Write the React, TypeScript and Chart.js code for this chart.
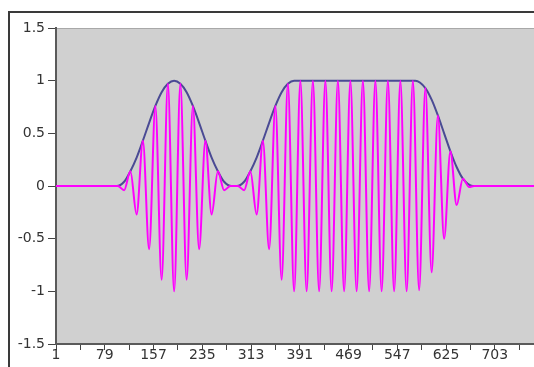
import React, { useEffect, useRef } from 'react';
import { Chart, registerables } from 'chart.js';

Chart.register(...registerables);

// x axis range (sample index) and tick labels
const X_MIN = 1;
const X_MAX = 801;
const xTickValues = [1, 40, 79, 118, 157, 196, 235, 274, 313, 352, 391, 430, 469, 508, 547, 586, 625, 664, 703, 742, 781];
const xLabelValues = [1, 79, 157, 235, 313, 391, 469, 547, 625, 703];
const yTickValues = [-1.5, -1, -0.5, 0, 0.5, 1, 1.5];

// envelope (dark blue line)
const envelopeX = [1, 98, 110, 120, 130, 140, 150, 160, 170, 180, 190, 200, 210, 220, 230, 240, 250, 260, 270, 282, 290, 302, 312, 322, 332, 342, 352, 362, 372, 382, 576, 592, 602, 612, 622, 632, 642, 652, 668, 801];
const envelopeY = [0, 0, 0.04, 0.14, 0.27, 0.43, 0.6, 0.76, 0.89, 0.97, 1, 0.97, 0.89, 0.76, 0.6, 0.43, 0.27, 0.14, 0.04, 0, 0, 0.04, 0.14, 0.27, 0.43, 0.6, 0.76, 0.89, 0.97, 1, 1, 0.93, 0.82, 0.67, 0.5, 0.33, 0.18, 0.07, 0, 0];

// modulated signal (magenta line): its peaks and troughs
const signalX = [1, 100, 110, 120, 130, 140, 150, 160, 170, 180, 190, 200, 210, 220, 230, 240, 250, 260, 270, 280, 292, 302, 312, 322, 332, 342, 352, 362, 372, 382, 392, 402, 412, 422, 432, 442, 452, 462, 472, 482, 492, 502, 512, 522, 532, 542, 552, 562, 572, 582, 592, 602, 612, 622, 632, 642, 652, 662, 670, 801];
const signalY = [0, 0, -0.04, 0.14, -0.27, 0.43, -0.6, 0.76, -0.89, 0.97, -1, 0.97, -0.89, 0.76, -0.6, 0.43, -0.27, 0.14, -0.04, 0, 0, -0.04, 0.14, -0.27, 0.43, -0.6, 0.76, -0.89, 0.97, -1, 1, -1, 1, -1, 1, -1, 1, -1, 1, -1, 1, -1, 1, -1, 1, -1, 1, -1, 1, -0.99, 0.93, -0.82, 0.67, -0.5, 0.33, -0.18, 0.07, -0.01, 0, 0];

const FONT = { family: 'DejaVu Sans', size: 14 };

export default function App() {
  const ref = useRef<HTMLCanvasElement>(null);

  useEffect(() => {
    if (!ref.current) return;
    const background = {
      id: 'background',
      beforeDraw(chart: any) {
        const { ctx, chartArea: a } = chart;
        ctx.save();
        ctx.fillStyle = '#ffffff';
        ctx.fillRect(0, 0, chart.width, chart.height);
        ctx.strokeStyle = '#3a3a3a';
        ctx.lineWidth = 2;
        ctx.strokeRect(9, 12, 1000, 1000);
        ctx.fillStyle = '#d0d0d0';
        ctx.fillRect(a.left, a.top, a.right - a.left, a.bottom - a.top);
        ctx.strokeStyle = '#a8a8a8';
        ctx.lineWidth = 1;
        ctx.beginPath();
        ctx.moveTo(a.left, a.top + 0.5);
        ctx.lineTo(a.right, a.top + 0.5);
        ctx.stroke();
        ctx.restore();
      },
    };

    const chart = new Chart(ref.current, {
      type: 'line',
      data: {
        datasets: [
          {
            data: envelopeX.map((x, i) => ({ x, y: envelopeY[i] })),
            borderColor: '#4a4a94',
            borderWidth: 2,
            pointRadius: 0,
            cubicInterpolationMode: 'monotone',
            order: 1,
          },
          {
            data: signalX.map((x, i) => ({ x, y: signalY[i] })),
            borderColor: '#ff00ff',
            borderWidth: 2,
            pointRadius: 0,
            cubicInterpolationMode: 'monotone',
            order: 0,
          },
        ],
      },
      options: {
        responsive: false,
        animation: false,
        devicePixelRatio: 1,
        events: [],
        layout: { padding: { left: 0, top: 28, right: 44, bottom: 0 } },
        plugins: { legend: { display: false }, tooltip: { enabled: false } },
        scales: {
          x: {
            type: 'linear',
            min: X_MIN,
            max: X_MAX,
            afterBuildTicks: (s: any) => {
              s.ticks = xTickValues.map((v) => ({ value: v }));
            },
            afterFit: (s: any) => {
              s.height = 23;
            },
            grid: { drawOnChartArea: false, drawTicks: true, tickLength: 6, color: '#444', lineWidth: 1 },
            border: { display: true, color: '#5a5a5a', width: 2 },
            ticks: {
              autoSkip: false,
              maxRotation: 0,
              padding: -3,
              color: '#333',
              font: FONT,
              callback: (v: any) => (xLabelValues.includes(Number(v)) ? String(v) : ''),
            },
          },
          y: {
            type: 'linear',
            min: -1.5,
            max: 1.5,
            afterBuildTicks: (s: any) => {
              s.ticks = yTickValues.map((v) => ({ value: v }));
            },
            afterFit: (s: any) => {
              s.width = 56;
            },
            grid: { drawOnChartArea: false, drawTicks: true, tickLength: 8, color: '#444', lineWidth: 1 },
            border: { display: true, color: '#5a5a5a', width: 2 },
            ticks: {
              padding: 3,
              color: '#333',
              font: FONT,
              callback: (v: any) => String(v),
            },
          },
        },
      },
      plugins: [background],
    } as any);
    return () => chart.destroy();
  }, []);

  return (
    <div style={{ position: 'fixed', left: 0, top: 0, width: 600, height: 367, overflow: 'hidden', background: '#fff' }}>
      <canvas ref={ref} width={600} height={367} style={{ width: 600, height: 367, display: 'block' }} />
    </div>
  );
}
